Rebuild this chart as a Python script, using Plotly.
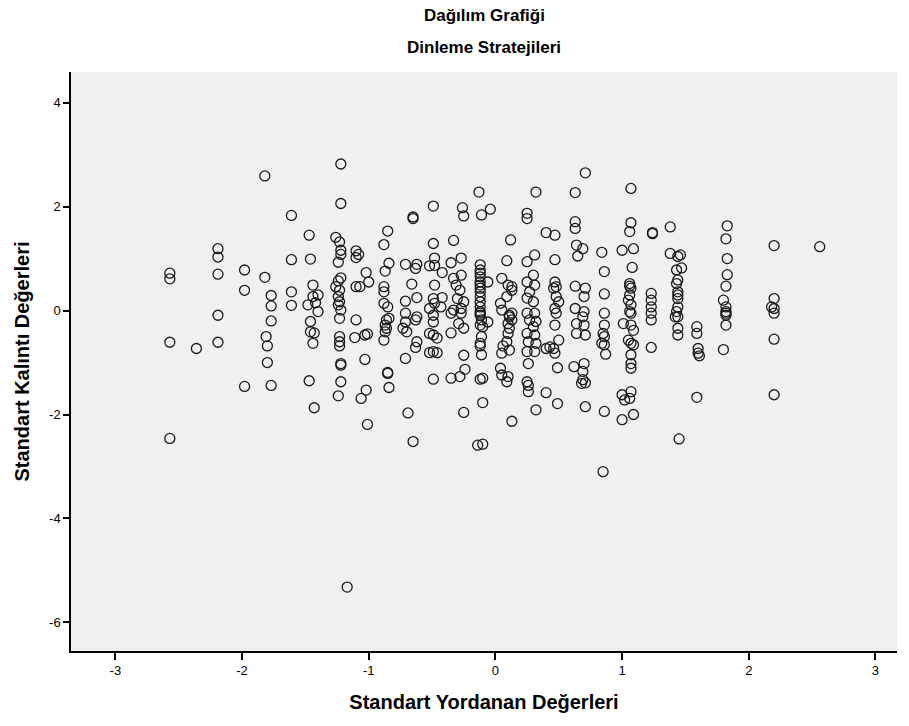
import plotly.graph_objects as go

# Standardized predicted values (x) and standardized residuals (y)
pred_left = [-2.57, -2.57, -2.57, -2.57, -2.36, -2.19, -2.19, -2.19, -2.19, -2.19,
             -1.98, -1.98, -1.98, -1.82, -1.82, -1.81, -1.80, -1.80,
             -1.77, -1.77, -1.77, -1.77, -1.61, -1.61, -1.61, -1.61]
resid_left = [0.72, 0.61, -0.61, -2.46, -0.73, 1.19, 1.03, 0.70, -0.09, -0.61,
              0.78, 0.39, -1.46, 2.59, 0.64, -0.50, -0.68, -1.00,
              0.29, 0.09, -0.20, -1.44, 1.83, 0.98, 0.36, 0.10]

pred_b = [-1.22, -1.22, -1.47, -0.65, -0.65, -0.85, -0.88, -1.26, -1.23, -1.22, -1.22, -1.24,
          -1.10, -1.08, -1.10, -1.46, -1.02, -1.00, -0.84, -0.87, -0.71, -0.62, -0.63, -0.66,
          -0.62, -0.71, -1.44,
          -1.22, -1.24, -1.26, -1.23, -1.24, -1.23, -1.24, -1.22,
          -1.10, -1.07, -0.88, -0.88,
          -1.44, -1.40, -1.48, -1.42, -1.40,
          -0.88, -0.85,
          -1.10, -1.46, -0.84, -0.71, -0.62,
          -1.46, -1.43, -1.44,
          -1.23, -1.23, -1.23, -1.23,
          -1.11, -1.03, -1.01, -1.03,
          -1.22, -1.22, -1.47, -1.22, -1.24, -1.02, -1.06, -1.43, -1.01,
          -0.85, -0.85, -0.84, -0.88,
          -0.86, -0.87, -0.86, -0.87,
          -0.71, -0.73, -0.70, -0.63,
          -0.62, -0.63, -0.71, -0.69, -0.65, -1.17]
resid_b = [2.82, 2.06, 1.45, 1.80, 1.77, 1.53, 1.27, 1.41, 1.32, 1.16, 1.08, 0.93,
           1.15, 1.08, 1.02, 0.99, 0.73, 0.55, 0.91, 0.76, 0.89, 0.89, 0.81, 0.51,
           0.25, 0.18, 0.49,
           0.63, 0.57, 0.46, 0.39, 0.27, 0.17, 0.11, 0.01,
           0.46, 0.46, 0.46, 0.36,
           0.27, 0.30, 0.11, 0.15, -0.02,
           0.14, 0.07,
           -0.18, -0.21, -0.15, -0.05, -0.12,
           -0.41, -0.43, -0.63,
           -0.15, -0.50, -0.60, -0.68,
           -0.52, -0.47, -0.45, -0.94,
           -1.02, -1.05, -1.35, -1.37, -1.64, -1.53, -1.69, -1.87, -2.19,
           -1.19, -1.21, -1.48, -0.57,
           -0.18, -0.28, -0.34, -0.41,
           -0.22, -0.34, -0.41, -0.18,
           -0.60, -0.71, -0.92, -1.97, -2.52, -5.32]

pred_c = [-0.13, -0.49, -0.26, -0.25, -0.11, -0.04, 0.25, 0.25, 0.32,
          -0.49, -0.33, 0.12,
          -0.48, -0.52, -0.48, -0.42, -0.35, -0.27, 0.09, 0.25, 0.31,
          -0.12, -0.12, -0.12, -0.12, -0.12, -0.12, -0.12, -0.12, -0.12, -0.12, -0.12, -0.12, -0.12,
          -0.06,
          -0.33, -0.27, -0.31, -0.28,
          -0.48, -0.49, -0.48, -0.42,
          0.05, 0.10, 0.13, 0.13, 0.09, 0.04, 0.05,
          0.25, 0.30, 0.31, 0.27, 0.25, 0.30,
          -0.33, -0.27, -0.25, -0.30,
          -0.52, -0.43,
          0.13, 0.11]
resid_c = [2.28, 2.01, 1.98, 1.82, 1.84, 1.95, 1.87, 1.77, 2.28,
           1.29, 1.35, 1.36,
           1.01, 0.86, 0.87, 0.73, 0.92, 1.01, 0.96, 0.94, 1.07,
           0.88, 0.78, 0.72, 0.65, 0.55, 0.49, 0.43, 0.36, 0.27, 0.17, 0.07, -0.02, -0.09,
           0.55,
           0.62, 0.68, 0.49, 0.39,
           0.49, 0.23, 0.14, 0.25,
           0.62, 0.49, 0.46, 0.39, 0.27, 0.14, 0.01,
           0.55, 0.68, 0.49, 0.36, 0.24, 0.17,
           0.01, 0.04, 0.17, 0.23,
           0.04, 0.07,
           -0.05, -0.12]

pred_d = [-0.49, -0.49, -0.35, -0.27,
          -0.52, -0.46, -0.49, -0.35, -0.29, -0.25,
          -0.49, -0.46, -0.52, -0.25,
          -0.49, -0.35, -0.28, -0.24, -0.25,
          -0.12, -0.11, -0.12, -0.10, -0.11, -0.12, -0.12, -0.11, -0.06,
          -0.12, -0.10, -0.10, -0.14, -0.10,
          0.11, 0.13, 0.10, 0.11, 0.10, 0.09, 0.06, 0.11, 0.05,
          0.04, 0.05, 0.10, 0.09, 0.13,
          0.25, 0.31, 0.27, 0.30, 0.25, 0.31, 0.26, 0.25, 0.31, 0.26,
          0.26, 0.26, 0.25, 0.32]
resid_d = [-0.09, -0.22, -0.05, -0.05,
           -0.44, -0.53, -0.47, -0.43, -0.25, -0.34,
           -0.79, -0.81, -0.81, -0.86,
           -1.32, -1.30, -1.27, -1.13, -1.96,
           -0.05, -0.18, -0.28, -0.31, -0.50, -0.63, -0.68, -0.85, -0.22,
           -1.32, -1.30, -1.77, -2.59, -2.57,
           -0.09, -0.18, -0.25, -0.34, -0.44, -0.60, -0.68, -0.76, -0.82,
           -1.11, -1.24, -1.27, -1.37, -2.13,
           -0.05, -0.05, -0.18, -0.31, -0.44, -0.47, -0.60, -0.79, -0.79, -1.02,
           -1.44, -1.56, -1.37, -1.91]

pred_e = [0.71, 0.63, 1.07, 0.40, 0.47, 0.63, 0.63, 1.07, 1.06, 1.24, 1.24,
          0.64, 0.69, 0.65, 0.84, 1.00, 1.09, 0.47, 0.86, 1.08,
          0.47, 0.48, 0.46, 0.63, 0.71, 0.70, 0.86,
          1.06, 1.06, 1.07, 1.06, 1.05, 1.07,
          1.23, 1.23, 1.23,
          0.48, 0.50, 0.47, 0.48, 0.63, 0.70, 0.86, 1.06]
resid_e = [2.65, 2.27, 2.35, 1.50, 1.45, 1.71, 1.58, 1.69, 1.52, 1.48, 1.50,
           1.26, 1.19, 1.05, 1.12, 1.16, 1.19, 0.98, 0.75, 0.83,
           0.55, 0.46, 0.43, 0.47, 0.43, 0.27, 0.32,
           0.52, 0.47, 0.43, 0.30, 0.20, 0.11,
           0.33, 0.20, 0.07,
           0.27, 0.17, 0.04, -0.05, 0.04, -0.02, -0.05, -0.02]

pred_f = [0.32, 0.32, 0.47, 0.43, 0.46, 0.47, 0.50, 0.40,
          0.64, 0.69, 0.70, 0.64, 0.71,
          0.86, 0.85, 0.86, 0.84, 0.86, 0.87,
          1.01, 1.07, 1.09, 1.05, 1.07, 1.09, 1.07, 1.07, 1.07, 1.07,
          1.23, 1.23, 1.23,
          0.49, 0.62, 0.70, 0.69, 0.69, 0.68, 0.71,
          0.40, 0.49, 0.71, 0.86, 1.00, 1.07, 1.02, 1.06, 1.00, 1.09, 0.85]
resid_f = [-0.21, -0.63, -0.28, -0.70, -0.73, -0.82, -0.57, -0.73,
           -0.25, -0.12, -0.28, -0.44, -0.47,
           -0.28, -0.44, -0.50, -0.63, -0.66, -0.84,
           -0.25, -0.28, -0.38, -0.57, -0.63, -0.66, -0.85, -1.02, -1.11, -0.05,
           -0.05, -0.18, -0.71,
           -1.10, -1.08, -1.02, -1.17, -1.33, -1.40, -1.39,
           -1.58, -1.79, -1.85, -1.94, -1.62, -1.56, -1.72, -1.69, -2.10, -2.00, -3.10]

pred_g = [1.38, 1.38, 1.46, 1.44, 1.47, 1.43, 1.44, 1.43, 1.44, 1.44, 1.44, 1.44, 1.44, 1.42,
          1.83, 1.82, 1.83, 1.83, 1.82, 1.80, 1.82, 1.82, 1.82,
          2.20, 2.20, 2.18, 2.20, 2.20,
          1.43, 1.44, 1.44, 1.59, 1.59, 1.60, 1.60, 1.61,
          1.82, 1.82, 1.80, 2.20, 1.59, 2.20, 1.45, 2.56]
resid_g = [1.61, 1.10, 1.07, 1.04, 0.82, 0.78, 0.59, 0.52, 0.36, 0.30, 0.23, 0.07, -0.12, -0.12,
           1.63, 1.38, 1.00, 0.69, 0.47, 0.20, 0.07, -0.02, -0.09,
           1.25, 0.23, 0.07, 0.04, -0.05,
           -0.02, -0.34, -0.47, -0.31, -0.44, -0.73, -0.82, -0.87,
           -0.05, -0.28, -0.75, -0.55, -1.67, -1.62, -2.47, 1.23]

x_vals = pred_left + pred_b + pred_c + pred_d + pred_e + pred_f + pred_g
y_vals = resid_left + resid_b + resid_c + resid_d + resid_e + resid_f + resid_g

x_ticks = [-3, -2, -1, 0, 1, 2, 3]
y_ticks = [4, 2, 0, -2, -4, -6]

FONT = "Liberation Sans, Arial, sans-serif"

fig = go.Figure()
fig.add_trace(go.Scatter(
    x=x_vals, y=y_vals, mode="markers",
    marker=dict(symbol="circle-open", size=10, color="#1a1a1a", line=dict(width=1.3)),
    hoverinfo="x+y", showlegend=False,
))

fig.update_layout(
    width=909, height=726,
    margin=dict(l=71, r=12, t=72, b=75),
    paper_bgcolor="white",
    plot_bgcolor="#f0f0f0",
    font=dict(family=FONT, color="black", size=13),
    xaxis=dict(
        range=[-3.35, 3.17], tickvals=x_ticks, ticktext=[str(v) for v in x_ticks],
        showgrid=False, zeroline=False, showline=True, linecolor="black", linewidth=1.5,
        ticks="outside", ticklen=7, tickwidth=1.5, tickcolor="black",
        title=dict(text="<b>Standart Yordanan Değerleri</b>", font=dict(size=20, family=FONT), standoff=18),
        tickfont=dict(size=13),
    ),
    yaxis=dict(
        range=[-6.55, 4.59], tickvals=y_ticks, ticktext=[str(v) for v in y_ticks],
        showgrid=False, zeroline=False, showline=True, linecolor="black", linewidth=1.5,
        ticks="outside", ticklen=6, tickwidth=1.5, tickcolor="black",
        title=dict(text="<b>Standart Kalıntı Değerleri</b>", font=dict(size=20, family=FONT), standoff=14),
        tickfont=dict(size=13),
    ),
    annotations=[
        dict(text="<b>Dağılım Grafiği</b>", x=0.5, y=1.0, xref="paper", yref="paper",
             xanchor="center", yanchor="bottom", yshift=45, showarrow=False,
             font=dict(size=17, family=FONT)),
        dict(text="<b>Dinleme Stratejileri</b>", x=0.5, y=1.0, xref="paper", yref="paper",
             xanchor="center", yanchor="bottom", yshift=13, showarrow=False,
             font=dict(size=17, family=FONT)),
    ],
)

fig.write_html(
    "out.html",
    config={"displayModeBar": False},
    post_script="document.body.style.margin='0px';document.body.style.overflow='hidden';",
)
